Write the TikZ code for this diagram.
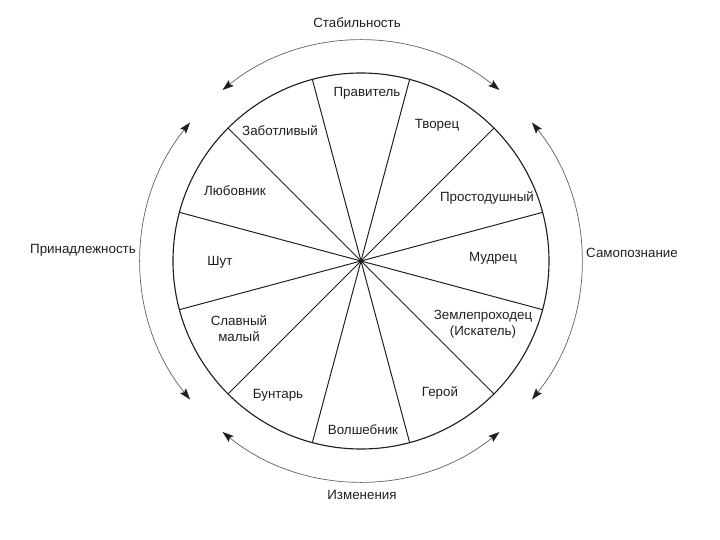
\documentclass[tikz,border=0pt]{standalone}
\usepackage{fontspec}
\setmainfont{Liberation Sans}
\usepackage{tkz-euclide}
\usetikzlibrary{arrows.meta,calc}
\definecolor{WheelClr}{rgb}{0.12,0.12,0.12}
\definecolor{ArcClr}{rgb}{0.38,0.38,0.38}

\begin{document}
\begin{tikzpicture}[
  lbl/.style={font=\fontsize{9.5}{11.5}\selectfont, align=center, inner sep=1pt, text=WheelClr},
  cyclearc/.style={line width=0.5pt, color=ArcClr,
    {Stealth[length=2.8mm,width=1.9mm,inset=0.5mm,color=WheelClr]}-{Stealth[length=2.8mm,width=1.9mm,inset=0.5mm,color=WheelClr]}}]
\useasboundingbox (-9.025,-6.975) rectangle (8.975,6.525);
\tkzSetUpLine[line width=0.7pt,color=WheelClr]

\tkzDefPoints{0/0/O,0/4.7/T}
\tkzDefPoint(15:4.7){S1}  \tkzDefPoint(45:4.7){S2}
\tkzDefPoint(75:4.7){S3}  \tkzDefPoint(105:4.7){S4}
\tkzDefPoint(135:4.7){S5} \tkzDefPoint(165:4.7){S6}
\tkzDefPoint(195:4.7){S7} \tkzDefPoint(225:4.7){S8}
\tkzDefPoint(255:4.7){S9} \tkzDefPoint(285:4.7){S10}
\tkzDefPoint(315:4.7){S11} \tkzDefPoint(345:4.7){S12}

\tkzDrawCircle[line width=0.8pt,color=WheelClr](O,T)
\tkzDrawSegments(O,S1 O,S2 O,S3 O,S4 O,S5 O,S6 O,S7 O,S8 O,S9 O,S10 O,S11 O,S12)

% outer arcs
\draw[cyclearc] (51:5.5) arc[start angle=51,end angle=129,radius=5.5];
\draw[cyclearc] (141:5.5) arc[start angle=141,end angle=219,radius=5.5];
\draw[cyclearc] (231:5.5) arc[start angle=231,end angle=309,radius=5.5];
\draw[cyclearc] (321:5.5) arc[start angle=321,end angle=399,radius=5.5];

% archetypes
\node[lbl] (ruler)     at (0.15,4.2)     {Правитель};
\node[lbl] (creator)   at (1.9,3.4)      {Творец};
\node[lbl] (caregiver) at (-2.025,3.25)  {Заботливый};
\node[lbl] (innocent)  at (3.15,1.575)   {Простодушный};
\node[lbl] (lover)     at (-3.15,1.75)   {Любовник};
\node[lbl] (sage)      at (3.3,0.075)    {Мудрец};
\node[lbl] (jester)    at (-3.525,-0.025) {Шут};
\node[lbl] (regular)   at (-3.05,-1.7)   {Славный\\малый};
\node[lbl] (explorer)  at (3.05,-1.575)  {Землепроходец\\(Искатель)};
\node[lbl] (rebel)     at (-2.075,-3.35) {Бунтарь};
\node[lbl] (hero)      at (1.975,-3.3)   {Герой};
\node[lbl] (magician)  at (0.05,-4.225)  {Волшебник};

% motivations
\node[lbl] (stability) at (-0.1,5.95)    {Стабильность};
\node[lbl] (change)    at (0.025,-5.85)  {Изменения};
\node[lbl] (belonging) at (-6.95,0.275)  {Принадлежность};
\node[lbl] (selfknow)  at (6.775,0.2)    {Самопознание};

\end{tikzpicture}
\end{document}
